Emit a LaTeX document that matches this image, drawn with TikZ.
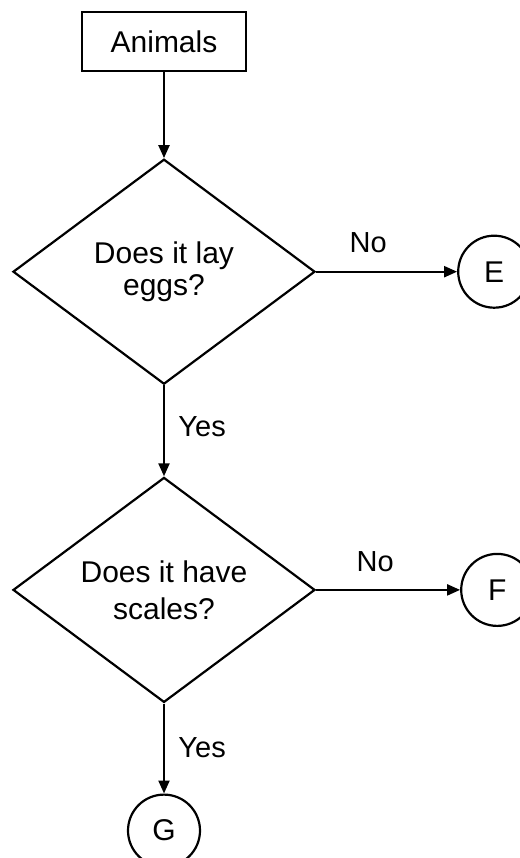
\documentclass[tikz,border=0pt]{standalone}
\usepackage{fontspec}
\setmainfont{Liberation Sans}
\usetikzlibrary{arrows.meta,positioning,shapes.geometric}

\begin{document}
\begin{tikzpicture}[
  x=1pt,y=1pt,
  box/.style={draw,line width=2.2pt,minimum width=164pt,minimum height=59pt,inner sep=0pt,font=\fontsize{30}{30}\selectfont},
  choice/.style={draw,diamond,shape aspect=1.34,line width=2.2pt,minimum width=302pt,minimum height=225pt,inner sep=0pt,align=center,font=\fontsize{30}{30}\selectfont},
  leaf/.style={draw,circle,line width=2.2pt,minimum size=72pt,inner sep=0pt,font=\fontsize{30}{30}\selectfont},
  flow/.style={-{Triangle[length=13pt,width=11pt]},line width=2.2pt},
  tag/.style={font=\fontsize{29}{29}\selectfont}
]
\useasboundingbox (0,0) rectangle (519,-858);
\node[box] (animals) at (164,-41.5) {Animals};
\node[choice,below=86pt of animals] (eggs) {Does it lay\\[2pt]eggs?};
\node[leaf,right=141pt of eggs] (resultE) {E};
\node[choice,below=91pt of eggs] (scales) {Does it have\\[7pt]scales?};
\node[leaf,right=144pt of scales] (resultF) {F};
\node[leaf,below=90pt of scales] (resultG) {G};
\draw[flow] (animals) -- (eggs);
\draw[flow] (eggs) -- node[tag,pos=0.37,above=14pt]{No} (resultE);
\draw[flow] (eggs) -- node[tag,pos=0.45,right=10pt]{Yes} (scales);
\draw[flow] (scales) -- node[tag,pos=0.41,above=14pt]{No} (resultF);
\draw[flow] (scales) -- node[tag,pos=0.49,right=10pt]{Yes} (resultG);
\end{tikzpicture}
\end{document}
